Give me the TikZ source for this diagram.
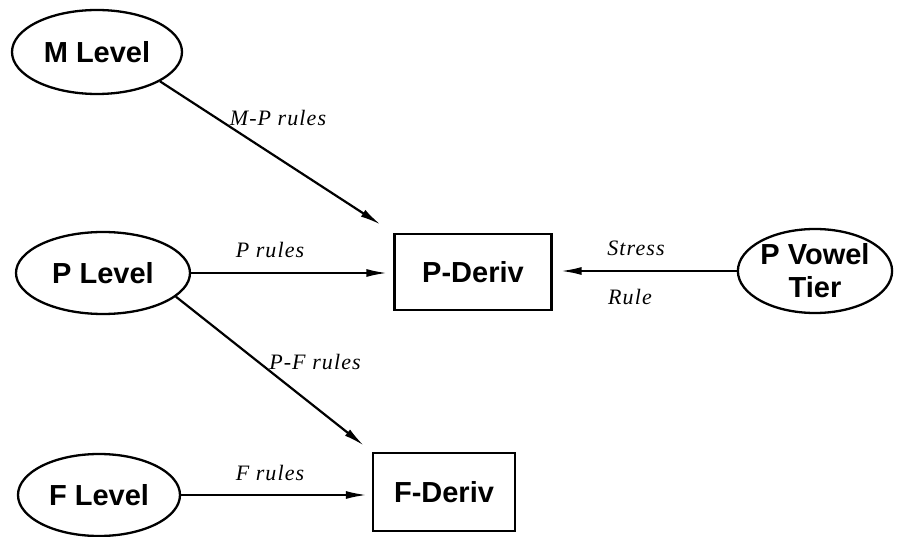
\documentclass[tikz,border=0pt]{standalone}
\usepackage{fontspec}
\setmainfont{Liberation Serif}
\newfontfamily\boxfont{Liberation Sans}
\newfontfamily\rulefont{Liberation Serif}[LetterSpace=5]
\usetikzlibrary{shapes.geometric,arrows.meta}
\begin{document}
\begin{tikzpicture}[x=1pt,y=-1pt,
  level/.style={ellipse,draw,line width=2.3pt,inner sep=0pt,
    font=\boxfont\bfseries\fontsize{29}{33}\selectfont,align=center},
  deriv/.style={rectangle,draw,line width=2.2pt,inner sep=0pt,
    font=\boxfont\bfseries\fontsize{29}{33}\selectfont},
  rulelbl/.style={font=\rulefont\itshape\fontsize{22}{26}\selectfont,inner sep=0pt},
  flow/.style={line width=2.2pt,-{Latex[length=21pt,width=8pt]}}]
\useasboundingbox (0,0) rectangle (900,537);

% levels (ellipses)
\node[level,minimum width=170pt,minimum height=84pt] (mlev) at (97,52) {M Level};
\node[level,minimum width=174pt,minimum height=82pt] (plev) at (103,273) {P Level};
\node[level,minimum width=162pt,minimum height=82pt] (flev) at (99,495) {F Level};
\node[level,minimum width=154pt,minimum height=84pt] (pvt) at (815,271) {P Vowel\\Tier};

% derivations (boxes)
\node[deriv,minimum width=157pt,minimum height=76pt] (pderiv) at (473,272) {P-Deriv};
\node[deriv,minimum width=142pt,minimum height=78pt] (fderiv) at (444,492) {F-Deriv};

% connectors
\draw[flow,shorten >=15pt] (mlev.-25) -- (pderiv.north west);
\draw[flow,shorten >=6pt] (plev.east) -- (pderiv.west |- plev.east);
\draw[flow,shorten >=8pt] (pvt.west) -- (pderiv.east |- pvt.west);
\draw[flow,shorten >=10pt] (plev.-18) -- (fderiv.north west);
\draw[flow,shorten >=5pt] (flev.east) -- (fderiv.west |- flev.east);

% rule labels
\node[rulelbl] (mprules) at (278,118) {M-P rules};
\node[rulelbl] (prules) at (270,250) {P rules};
\node[rulelbl] (stress) at (636,248) {Stress};
\node[rulelbl] (rule) at (630,297) {Rule};
\node[rulelbl] (pfrules) at (315,362) {P-F rules};
\node[rulelbl] (frules) at (270,473) {F rules};
\end{tikzpicture}
\end{document}
